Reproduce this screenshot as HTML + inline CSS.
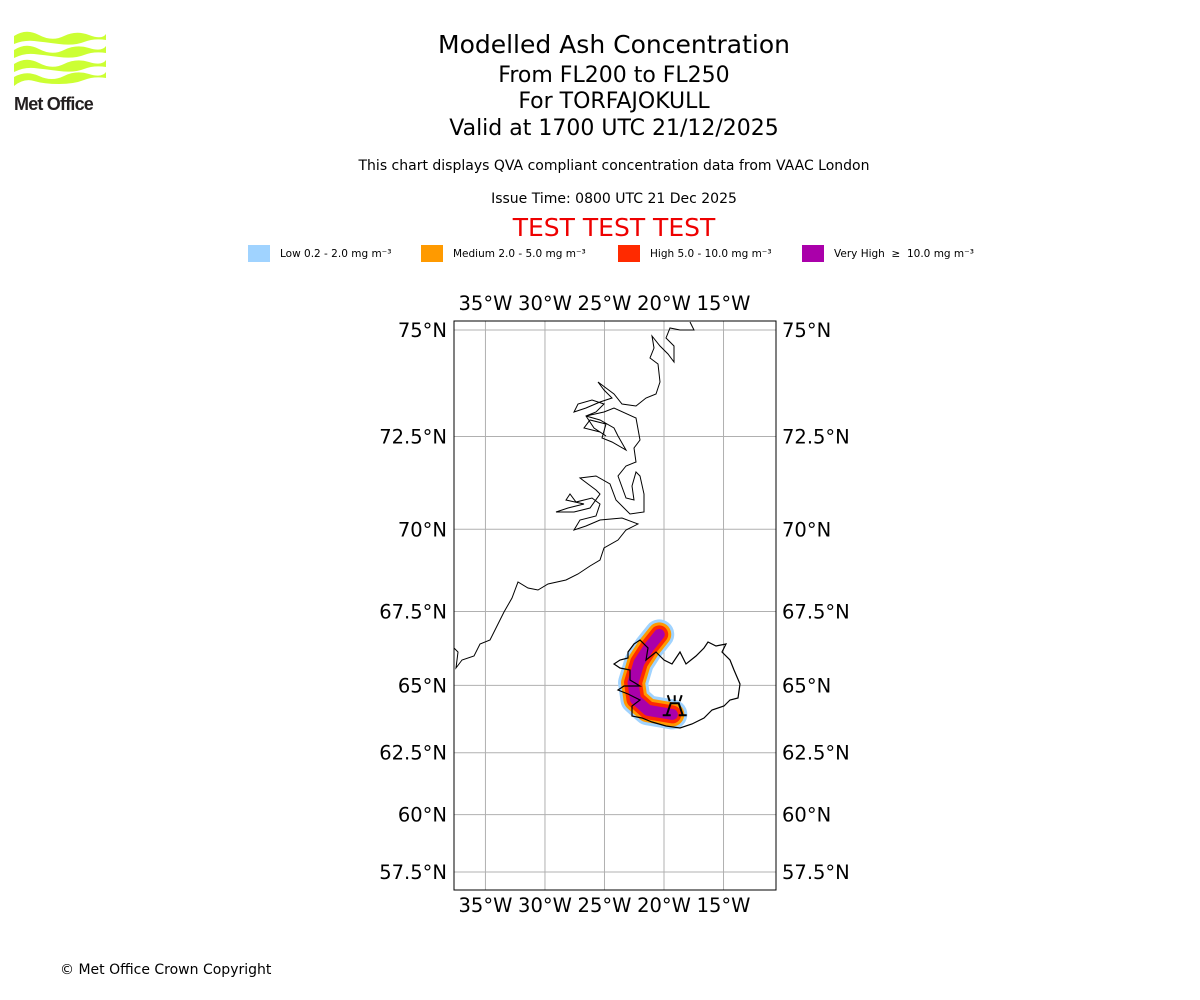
<!DOCTYPE html>
<html><head><meta charset="utf-8"><style>
body{margin:0;width:1200px;height:1000px;background:#fff;font-family:"DejaVu Sans","Liberation Sans",sans-serif;position:relative;overflow:hidden}
.t{position:absolute;left:0;width:1228px;text-align:center;color:#000;line-height:1.15}
</style></head><body>
<div style="position:absolute;left:14px;top:30px;width:92px;height:82px">
<svg width="92" height="56" viewBox="0 0 92 56"><g fill="#ccff33">
<path d="M0 6 Q12 -2 25 5 T50 6 T75 5 T92 4 V10 Q80 8 70 12 T45 14 T20 11 T0 14Z"/>
<path d="M0 20 Q12 12 25 19 T50 20 T75 18 T92 16 V23 Q80 21 70 25 T45 27 T20 24 T0 28Z"/>
<path d="M0 34 Q12 26 25 33 T50 34 T75 32 T92 30 V37 Q80 35 70 39 T45 41 T20 38 T0 42Z"/>
<path d="M0 47 Q12 40 25 46 T50 46 T75 44 T92 42 V48 Q80 46 70 50 T45 54 T20 51 T0 56Z"/></g></svg>
<div style="font-family:'Liberation Sans',sans-serif;font-weight:bold;font-size:18px;color:#231f20;letter-spacing:-0.8px;margin-top:4px">Met Office</div></div>
<div class="t" style="top:31px;font-size:25px">Modelled Ash Concentration</div>
<div class="t" style="top:63px;font-size:22px">From FL200 to FL250</div>
<div class="t" style="top:89px;font-size:22px">For TORFAJOKULL</div>
<div class="t" style="top:116px;font-size:22px">Valid at 1700 UTC 21/12/2025</div>
<div class="t" style="top:158px;font-size:14px">This chart displays QVA compliant concentration data from VAAC London</div>
<div class="t" style="top:191px;font-size:14px">Issue Time: 0800 UTC 21 Dec 2025</div>
<div class="t" style="top:214px;font-size:25px;color:#e00">TEST TEST TEST</div>
<div id="legend" style="position:absolute;top:245px;left:0;width:1200px;height:20px;font-size:10.5px"></div>
<div style="position:absolute;left:60px;top:962px;font-size:14px">© Met Office Crown Copyright</div>
<svg id="map" width="1200" height="1000" style="position:absolute;left:0;top:0;font-family:'DejaVu Sans',sans-serif"></svg>
<script>
const lonTicks=[-35,-30,-25,-20,-15];
const latTicks=[75,72.5,70,67.5,65,62.5,60,57.5];
const levelNames=["Low 0.2 - 2.0 mg m⁻³","Medium 2.0 - 5.0 mg m⁻³","High 5.0 - 10.0 mg m⁻³","Very High  ≥  10.0 mg m⁻³"];
const levelColors=["#a0d3ff","#ff9a00","#ff2a00","#aa00aa"];
const plumeLon=[-20.4,-21.3,-22.1,-22.6,-22.4,-21.35,-19.3];
const plumeLat=[66.75,66.3,65.8,65.1,64.5,64.1,63.95];
const plumeWidths=[30,24,18,11];
const volcanoLon=-19.1, volcanoLat=63.92;
const NS="http://www.w3.org/2000/svg";
const k=682, x0=664, lon0=-20, y75=330;
const merc=l=>Math.log(Math.tan(Math.PI/4+l*Math.PI/360));
const X=lon=>x0+(lon-lon0)*k*Math.PI/180;
const Y=lat=>y75+k*(merc(75)-merc(lat));
const svg=document.getElementById('map');
function el(t,a){const e=document.createElementNS(NS,t);for(const q in a)e.setAttribute(q,a[q]);svg.appendChild(e);return e;}
const L=454,R=776,T=321,B=890;
lonTicks.forEach(v=>{const g=el('line',{x1:X(v),x2:X(v),y1:T,y2:B,stroke:'#b0b0b0'});


[[T-11,'top'],[B+22,'bottom']].forEach(([y,p])=>{const t=el('text',{x:X(v),y:y,'text-anchor':'middle','font-size':19.5});t.textContent=Math.abs(v)+'°W';

});});
latTicks.forEach(v=>{const g=el('line',{x1:L,x2:R,y1:Y(v),y2:Y(v),stroke:'#b0b0b0'});


const a=el('text',{x:L-7,y:Y(v)+7,'text-anchor':'end','font-size':19.5});a.textContent=v+'°N';


const b=el('text',{x:R+6,y:Y(v)+7,'font-size':19.5});b.textContent=v+'°N';

});
const pts=plumeLon.map((lo,i)=>X(lo)+','+Y(plumeLat[i])).join(' ');
plumeWidths.forEach((w,i)=>{const p=el('polyline',{points:pts,fill:'none',stroke:levelColors[i],'stroke-width':w,'stroke-linecap':'round','stroke-linejoin':'round'});

});
const gl=el('path',{fill:'none',stroke:'#000','stroke-width':1,d:"M454 648 L458 652 L456 668 L462 660 L474 656 L480 644 L490 640 L496 628 L504 612 L512 598 L518 582 L528 588 L538 590 L548 584 L566 580 L578 574 L590 566 L600 560 L604 548 L618 540 L626 530 L638 524 L622 518 L600 520 L586 526 L574 530 L580 520 L596 516 L600 504 L592 498 L576 502 L570 494 L566 500 L584 504 L568 508 L556 512 L574 512 L590 508 L600 494 L596 490 L580 478 L596 476 L610 484 L616 500 L630 514 L644 512 L644 494 L640 476 L636 472 L632 486 L634 500 L626 498 L618 476 L626 466 L636 462 L634 448 L640 440 L636 418 L614 408 L604 412 L586 416 L600 420 L614 428 L618 436 L626 450 L612 442 L602 438 L606 424 L590 420 L584 428 L600 432 L606 436 L594 428 L586 416 L596 412 L604 404 L592 400 L578 404 L574 412 L586 408 L600 402 L612 398 L604 390 L598 382 L606 388 L614 394 L622 404 L636 406 L646 398 L656 394 L660 382 L658 364 L650 358 L654 348 L652 336 L660 346 L668 354 L674 362 L674 346 L666 338 L670 328 L680 330 L694 330 L690 322"});


const ic=el('path',{fill:'none',stroke:'#000','stroke-width':1.2,d:"M628 652 L634 644 L640 640 L648 648 L646 660 L656 652 L664 660 L672 664 L680 652 L686 664 L696 656 L704 648 L708 642 L716 646 L726 644 L722 652 L730 660 L734 670 L740 684 L738 698 L730 700 L724 706 L712 710 L704 718 L692 724 L680 728 L666 726 L652 722 L642 718 L632 716 L632 706 L640 700 L628 694 L618 690 L624 686 L640 686 L630 680 L630 670 L620 668 L614 664 L620 660 L628 658 Z"});


const vx=X(volcanoLon), vy=Y(volcanoLat);
const v=el('path',{fill:'none',stroke:'#000','stroke-width':2,d:`M${vx-8} ${vy} L${vx-4} ${vy-12} L${vx+4} ${vy-12} L${vx+8} ${vy} M${vx-12} ${vy} H${vx-4} M${vx+4} ${vy} H${vx+12} M${vx-5} ${vy-14} L${vx-7} ${vy-20} M${vx} ${vy-14} V${vy-20} M${vx+5} ${vy-14} L${vx+7} ${vy-20}`});


const fr=el('rect',{x:L,y:T,width:R-L,height:B-T,fill:'none',stroke:'#000'});


const lx=[248,421,618,802];
const lg=document.getElementById('legend');
levelNames.forEach((n,i)=>{const d=document.createElement('div');


d.style.cssText=`position:absolute;left:${lx[i]}px;top:0;white-space:pre;display:flex;align-items:center`;
d.innerHTML=`<span style="display:inline-block;width:22px;height:17px;background:${levelColors[i]};margin-right:10px"></span>${n}`;
lg.appendChild(d);});
</script>
</body></html>
